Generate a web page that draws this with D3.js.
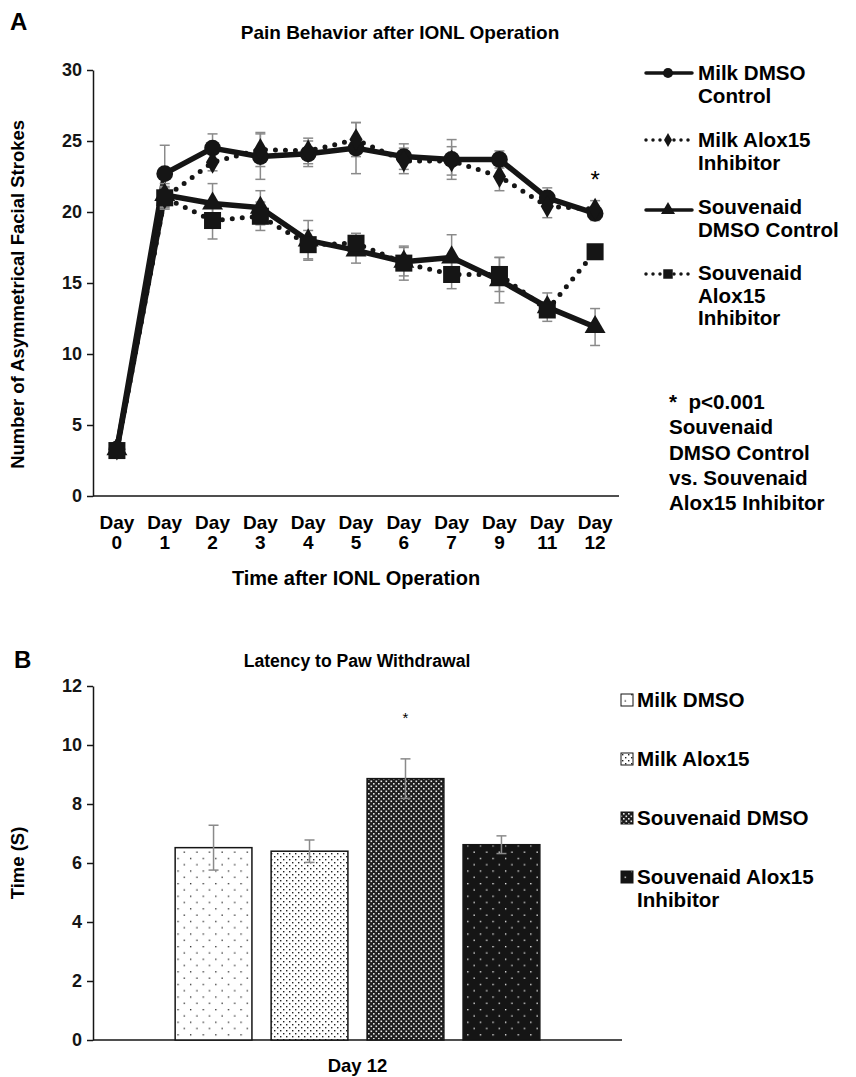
<!DOCTYPE html>
<html>
<head>
<meta charset="utf-8">
<script src="https://cdn.jsdelivr.net/npm/d3@7"></script>
<style>
  body { margin: 0; background: #fff; }
  svg { display: block; font-family: "Liberation Sans", Arial, sans-serif; font-weight: bold; }
</style>
</head>
<body>
<div id="chart"></div>
<script>
// Panel A data (days after IONL operation)
var days = ["0", "1", "2", "3", "4", "5", "6", "7", "9", "11", "12"];
var milkDmso = [3.3, 22.7, 24.5, 23.9, 24.1, 24.5, 23.9, 23.7, 23.7, 21.0, 19.9];
var milkDmsoErr = [0.3, 2.0, 1.0, 1.6, 0.9, 1.8, 0.9, 1.4, 0.6, 0.7, 0.5];
var milkAlox = [3.3, 21.0, 23.5, 24.4, 24.3, 25.1, 23.6, 23.6, 22.5, 20.4, 20.2];
var milkAloxErr = [0.3, 0.8, 0.6, 1.2, 0.9, 1.2, 0.9, 1.0, 1.0, 0.8, 0.6];
var souvDmso = [3.3, 21.2, 20.6, 20.3, 18.0, 17.3, 16.5, 16.8, 15.2, 13.3, 11.9];
var souvDmsoErr = [0.3, 0.8, 1.4, 1.2, 1.4, 0.9, 1.0, 1.6, 1.6, 1.0, 1.3];
var souvAlox = [3.2, 21.0, 19.4, 19.7, 17.7, 17.8, 16.4, 15.6, 15.6, 13.1, 17.2];
var souvAloxErr = [0.3, 0.7, 1.3, 1.0, 1.0, 0.7, 1.2, 1.0, 1.2, 0.5, 0.3];
var seriesNames = [["Milk DMSO", "Control"], ["Milk Alox15", "Inhibitor"],
                   ["Souvenaid", "DMSO Control"], ["Souvenaid", "Alox15", "Inhibitor"]];
var footnote = ["*  p<0.001", "Souvenaid", "DMSO Control", "vs. Souvenaid", "Alox15 Inhibitor"];

// Panel B data (Day 12)
var groups = ["Milk DMSO", "Milk Alox15", "Souvenaid DMSO", "Souvenaid Alox15"];
var latency = [6.52, 6.4, 8.86, 6.62];
var latencyErr = [0.76, 0.38, 0.67, 0.3];
var barLegend = [["Milk DMSO"], ["Milk Alox15"], ["Souvenaid DMSO"], ["Souvenaid Alox15", "Inhibitor"]];

var ink = "#151515", errColor = "#8a8a8a";

var svg = d3.select("#chart").append("svg")
    .attr("width", 856)
    .attr("height", 1077);

// fill patterns for the bars
var defs = svg.append("defs");
function dotPattern(id, size, bg, fg, r) {
    var p = defs.append("pattern").attr("id", id)
        .attr("patternUnits", "userSpaceOnUse")
        .attr("width", size).attr("height", size);
    p.append("rect").attr("width", size).attr("height", size).attr("fill", bg);
    p.append("rect").attr("x", 1).attr("y", 1).attr("width", r).attr("height", r).attr("fill", fg);
    p.append("rect").attr("x", 1 + size / 2).attr("y", 1 + size / 2).attr("width", r).attr("height", r).attr("fill", fg);
}
dotPattern("p0", 12.6, "#fff", "#222", 1.3);
dotPattern("p1", 6, "#fff", "#222", 1.4);
dotPattern("p3", 12.6, "#151515", "#fff", 1.3);
var p2 = defs.append("pattern").attr("id", "p2")
    .attr("patternUnits", "userSpaceOnUse").attr("width", 5).attr("height", 5);
p2.append("rect").attr("width", 5).attr("height", 5).attr("fill", "#1e1e1e");
p2.append("rect").attr("x", 0.5).attr("y", 0.5).attr("width", 1.6).attr("height", 1.6).attr("fill", "#e8e8e8");
p2.append("rect").attr("x", 3).attr("y", 3).attr("width", 1.6).attr("height", 1.6).attr("fill", "#e8e8e8");
var patterns = ["url(#p0)", "url(#p1)", "url(#p2)", "url(#p3)"];

// ---------------- Panel A ----------------
var xA = d3.scaleBand().domain(days).range([93, 619]);
var yA = d3.scaleLinear().domain([0, 30]).range([496, 70]);

svg.append("text").attr("x", 10).attr("y", 30).style("font-size", "24px").text("A");
svg.append("text").attr("x", 400).attr("y", 39).attr("text-anchor", "middle")
    .style("font-size", "19px").text("Pain Behavior after IONL Operation");

var axA = svg.append("g").attr("transform", "translate(93,0)")
    .call(d3.axisLeft(yA).tickValues([0, 5, 10, 15, 20, 25, 30]).tickSize(6).tickSizeOuter(0).tickPadding(5));
axA.selectAll("text").style("font-size", "18px").style("font-family", "Liberation Sans, Arial").style("font-weight", "bold").attr("fill", ink);
axA.selectAll("line, path").attr("stroke", ink).attr("stroke-width", 1.5);

svg.append("line").attr("x1", 93).attr("x2", 619).attr("y1", yA(0)).attr("y2", yA(0))
    .attr("stroke", ink).attr("stroke-width", 1.5);

var xl = svg.append("g").selectAll("text").data(days).join("text")
    .attr("text-anchor", "middle")
    .attr("x", function (d) { return xA(d) + xA.bandwidth() / 2; })
    .attr("y", 529)
    .style("font-size", "19px");
xl.append("tspan").text("Day");
xl.append("tspan").attr("x", function (d) { return xA(d) + xA.bandwidth() / 2; }).attr("dy", 20).text(function (d) { return d; });

svg.append("text").attr("text-anchor", "middle").attr("x", 356).attr("y", 585)
    .style("font-size", "20px").text("Time after IONL Operation");
svg.append("text").attr("text-anchor", "middle")
    .attr("transform", "translate(24," + yA(14.2) + ") rotate(-90)")
    .style("font-size", "18.5px").text("Number of Asymmetrical Facial Strokes");

var series = [
    { vals: milkDmso, err: milkDmsoErr, dotted: false, sym: d3.symbolCircle, size: 220, lsize: 80 },
    { vals: milkAlox, err: milkAloxErr, dotted: true, sym: d3.symbolDiamond, size: 150, lsize: 55 },
    { vals: souvDmso, err: souvDmsoErr, dotted: false, sym: d3.symbolTriangle, size: 190, lsize: 85 },
    { vals: souvAlox, err: souvAloxErr, dotted: true, sym: d3.symbolSquare, size: 290, lsize: 90 }
];
var cx = function (i) { return xA(days[i]) + xA.bandwidth() / 2; };
var line = d3.line().x(function (d, i) { return cx(i); }).y(function (d) { return yA(d); });

series.forEach(function (s) {
    svg.append("path").attr("d", line(s.vals)).attr("fill", "none")
        .attr("stroke", ink).attr("stroke-width", s.dotted ? 5 : 5.5)
        .attr("stroke-linecap", "round").attr("stroke-linejoin", "round")
        .attr("stroke-dasharray", s.dotted ? "0 10" : null);
});
// error bars sit behind the markers
series.forEach(function (s) {
    var g = svg.append("g").attr("stroke", errColor).attr("stroke-width", 1.5);
    s.vals.forEach(function (v, i) {
        if (i === 0) return;
        var x = cx(i), y1 = yA(v - s.err[i]), y2 = yA(v + s.err[i]);
        g.append("line").attr("x1", x).attr("x2", x).attr("y1", y1).attr("y2", y2);
        g.append("line").attr("x1", x - 5).attr("x2", x + 5).attr("y1", y1).attr("y2", y1);
        g.append("line").attr("x1", x - 5).attr("x2", x + 5).attr("y1", y2).attr("y2", y2);
    });
});
series.forEach(function (s) {
    svg.append("g").selectAll("path").data(s.vals).join("path")
        .attr("transform", function (d, i) { return "translate(" + cx(i) + "," + yA(d) + ")"; })
        .attr("d", d3.symbol().type(s.sym).size(s.size))
        .attr("fill", ink);
});
svg.append("text").attr("text-anchor", "middle").attr("x", cx(10)).attr("y", yA(21.7))
    .style("font-size", "24px").style("font-weight", "normal").text("*");

// legend A
series.forEach(function (s, i) {
    var y = [73, 140, 210, 274][i];
    var g = svg.append("g");
    g.append("line").attr("x1", 646).attr("x2", 692).attr("y1", y).attr("y2", y)
        .attr("stroke", ink).attr("stroke-width", 3.5)
        .attr("stroke-linecap", "round")
        .attr("stroke-dasharray", s.dotted ? "0 7" : null);
    g.append("path").attr("transform", "translate(668," + y + ")")
        .attr("d", d3.symbol().type(s.sym).size(s.lsize)).attr("fill", ink);
    var t = g.append("text").attr("x", 698).attr("y", [73, 140, 207, 273][i] + 7).style("font-size", "20.6px");
    seriesNames[i].forEach(function (n, k) {
        t.append("tspan").attr("x", 698).attr("dy", k ? 22.5 : 0).text(n);
    });
});
var fn = svg.append("text").attr("x", 669).attr("y", 409).style("font-size", "20.6px")
    .attr("xml:space", "preserve").style("white-space", "pre");
footnote.forEach(function (n, k) {
    fn.append("tspan").attr("x", 669).attr("dy", k ? 25.3 : 0).text(n);
});

// ---------------- Panel B ----------------
var yB = d3.scaleLinear().domain([0, 12]).range([1040, 686]);
var x0 = d3.scaleBand().domain(["Day 12"]).range([93, 622]).paddingOuter(0.189);
var x1 = d3.scaleBand().domain(groups).range([0, x0.bandwidth()]).paddingInner(0.2).paddingOuter(0.1);

svg.append("text").attr("x", 14).attr("y", 668).style("font-size", "24px").text("B");
svg.append("text").attr("x", 357).attr("y", 667).attr("text-anchor", "middle")
    .style("font-size", "17.6px").text("Latency to Paw Withdrawal");

var axB = svg.append("g").attr("transform", "translate(93,0)")
    .call(d3.axisLeft(yB).tickValues([0, 2, 4, 6, 8, 10, 12]).tickSize(6).tickSizeOuter(0).tickPadding(5));
axB.selectAll("text").style("font-size", "18px").style("font-family", "Liberation Sans, Arial").style("font-weight", "bold").attr("fill", ink);
axB.selectAll("line, path").attr("stroke", ink).attr("stroke-width", 1.5);
svg.append("line").attr("x1", 93).attr("x2", 622).attr("y1", yB(0)).attr("y2", yB(0))
    .attr("stroke", ink).attr("stroke-width", 1.5);

svg.append("text").attr("text-anchor", "middle")
    .attr("transform", "translate(24," + yB(6) + ") rotate(-90)")
    .style("font-size", "18.5px").text("Time (S)");
svg.append("text").attr("text-anchor", "middle").attr("x", x0("Day 12") + x0.bandwidth() / 2)
    .attr("y", 1072).style("font-size", "18.5px").text("Day 12");

var bx = function (i) { return x0("Day 12") + x1(groups[i]); };
svg.append("g").selectAll("rect").data(latency).join("rect")
    .attr("x", function (d, i) { return bx(i); })
    .attr("y", function (d) { return yB(d); })
    .attr("width", x1.bandwidth())
    .attr("height", function (d) { return yB(0) - yB(d); })
    .attr("fill", function (d, i) { return patterns[i]; })
    .attr("stroke", ink).attr("stroke-width", 1.5);

var eb = svg.append("g").attr("stroke", errColor).attr("stroke-width", 1.5);
latency.forEach(function (v, i) {
    var x = bx(i) + x1.bandwidth() / 2, y1 = yB(v - latencyErr[i]), y2 = yB(v + latencyErr[i]);
    eb.append("line").attr("x1", x).attr("x2", x).attr("y1", y1).attr("y2", y2);
    eb.append("line").attr("x1", x - 5).attr("x2", x + 5).attr("y1", y1).attr("y2", y1);
    eb.append("line").attr("x1", x - 5).attr("x2", x + 5).attr("y1", y2).attr("y2", y2);
});
svg.append("text").attr("text-anchor", "middle").attr("x", bx(2) + x1.bandwidth() / 2).attr("y", yB(10.75))
    .style("font-size", "15px").style("font-weight", "normal").text("*");

// legend B
barLegend.forEach(function (n, i) {
    var y = 700 + i * 59;
    svg.append("rect").attr("x", 621).attr("y", y - 6).attr("width", 12).attr("height", 12)
        .attr("fill", patterns[i]).attr("stroke", ink).attr("stroke-width", 1);
    var t = svg.append("text").attr("x", 637).attr("y", y + 7).style("font-size", "20.6px");
    n.forEach(function (s, k) {
        t.append("tspan").attr("x", 637).attr("dy", k ? 23 : 0).text(s);
    });
});
</script>
</body>
</html>
